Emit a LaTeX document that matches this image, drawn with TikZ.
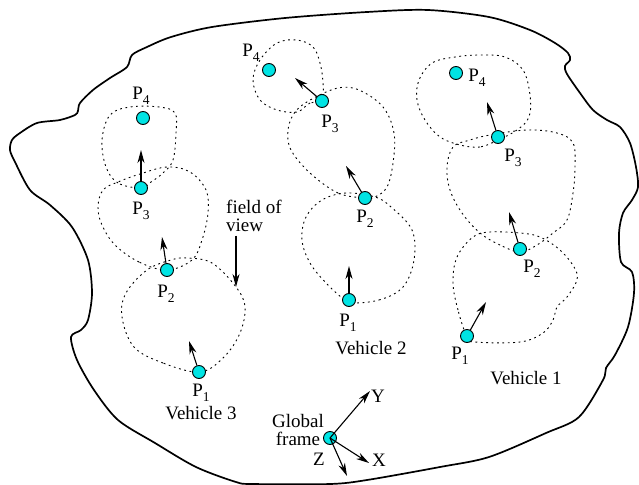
\documentclass[tikz,border=0pt]{standalone}
\usepackage{fontspec}
\setmainfont{Liberation Serif}
\usetikzlibrary{arrows.meta}
\definecolor{ptfill}{RGB}{0,228,228}
\newcommand{\Pn}[1]{P\raisebox{-5pt}{\fontsize{13.5}{13.5}\selectfont #1}}
\begin{document}
\begin{tikzpicture}[x=1pt,y=-1pt,
  ptc/.style={circle,draw=black,line width=0.9pt,fill=ptfill,minimum size=13pt,inner sep=0pt},
  lbl/.style={font=\fontsize{19}{17.5}\selectfont, inner sep=0pt},
  fov/.style={dash pattern=on 1.8pt off 3.6pt, line width=0.9pt},
  mv/.style={-{Stealth[length=13pt,width=7pt,inset=4pt]}, line width=1.1pt},
  bound/.style={line width=1.7pt}]
\useasboundingbox (0,0) rectangle (639,484);
% outer boundary
\draw[bound] plot[smooth cycle, tension=0.5] coordinates {
 (60,120) (75,115) (78,111) (80,103) (93,90) (110,78) (127,67) (132,55) (147,47) (171,37) (212,27)
 (285,18) (367,12) (428,10) (489,17) (530,30) (555,43) (568,53) (570,60) (565,66) (567,74)
 (580,93) (593,110) (607,120) (620,127) (630,143) (636,167) (638,187) (632,200) (623,213) (619,233)
 (621,262) (632,272) (634,293) (628,327) (615,355) (606,368) (603,380) (579,417)
 (546,433) (489,457) (440,467) (367,480) (330,484) (253,484) (236,482) (196,467)
 (155,443) (118,420) (94,390) (77,360) (71,337) (81,330) (88,320) (92,293) (88,260)
 (72,227) (50,205) (30,190) (15,162) (10,150) (12,140) (20,133) (37,123)};
% fields of view, vehicle 3
\draw[fov] plot[smooth cycle, tension=0.6] coordinates {
 (200,372) (163,363) (134,347) (122,317) (126,293) (147,270) (171,260) (187,258)
 (212,263) (236,287) (245,307) (240,333) (224,357)};
\draw[fov] plot[smooth cycle, tension=0.6] coordinates {
 (167,270) (139,262) (115,245) (102,225) (98,207) (103,190) (118,182) (140,174)
 (167,167) (190,172) (206,190) (208,213) (202,240) (192,260)};
\draw[fov] plot[smooth cycle, tension=0.6] coordinates {
 (141,188) (118,183) (106,167) (102,140) (110,115) (130,107) (159,107) (175,113)
 (176,133) (173,160) (163,173) (151,182)};
% vehicle 2
\draw[fov] plot[smooth cycle, tension=0.6] coordinates {
 (349,303) (379,300) (403,287) (414,260) (412,230) (391,207) (375,197) (346,193)
 (322,200) (306,217) (302,240) (310,263) (326,283) (342,298)};
\draw[fov] plot[smooth cycle, tension=0.6] coordinates {
 (365,198) (338,193) (310,173) (291,150) (288,130) (295,112) (312,99) (338,88)
 (359,90) (383,107) (394,133) (393,163) (387,187) (375,197)};
\draw[fov] plot[smooth cycle, tension=0.6] coordinates {
 (322,101) (310,103) (297,112) (277,110) (260,100) (253,80) (260,60) (277,43)
 (297,40) (313,47) (320,63) (323,83)};
% vehicle 1
\draw[fov] plot[smooth cycle, tension=0.6] coordinates {
 (467,337) (458,310) (453,283) (457,257) (473,237) (490,232) (520,233) (540,237)
 (560,250) (574,267) (577,280) (567,297) (557,307) (553,320) (543,333) (520,342) (475,342)};
\draw[fov] plot[smooth cycle, tension=0.6] coordinates {
 (520,252) (500,245) (480,233) (462,213) (450,190) (447,167) (453,147) (470,140)
 (490,135) (527,130) (557,133) (573,143) (575,167) (573,193) (567,220) (553,233) (537,245)};
\draw[fov] plot[smooth cycle, tension=0.6] coordinates {
 (498,140) (480,147) (460,145) (440,137) (425,120) (417,100) (419,80) (432,63)
 (455,57) (480,55) (505,57) (523,70) (530,95) (529,117) (517,130)};
% positions
\node[ptc] (v3p1) at (199,372) {};
\node[ptc] (v3p2) at (167,270) {};
\node[ptc] (v3p3) at (141,188) {};
\node[ptc] (v3p4) at (143,118) {};
\node[ptc] (v2p1) at (349,300) {};
\node[ptc] (v2p2) at (365,198) {};
\node[ptc] (v2p3) at (322,101) {};
\node[ptc] (v2p4) at (269,70) {};
\node[ptc] (v1p1) at (467,336) {};
\node[ptc] (v1p2) at (520,249) {};
\node[ptc] (v1p3) at (498,137) {};
\node[ptc] (v1p4) at (456,73) {};
\node[ptc] (gf) at (330,438) {};
% heading arrows
\coordinate (v3a1) at (189,341);
\coordinate (v3a2) at (162,237);
\coordinate (v3a3) at (141,150);
\coordinate (v2a1) at (349,266);
\coordinate (v2a2) at (346,166);
\coordinate (v2a3) at (295,78);
\coordinate (v1a1) at (486,302);
\coordinate (v1a2) at (509,212);
\coordinate (v1a3) at (487,102);
\draw[mv] (v3p1) -- (v3a1);
\draw[mv] (v3p2) -- (v3a2);
\draw[mv] (v3p3) -- (v3a3);
\draw[mv] (v2p1) -- (v2a1);
\draw[mv] (v2p2) -- (v2a2);
\draw[mv] (v2p3) -- (v2a3);
\draw[mv] (v1p1) -- (v1a1);
\draw[mv] (v1p2) -- (v1a2);
\draw[mv] (v1p3) -- (v1a3);
% global frame axes
\coordinate (ay) at (370,391);
\coordinate (ax) at (369,463);
\coordinate (az) at (347,476);
\draw[mv] (gf.center) -- (ay);
\draw[mv] (gf.center) -- (ax);
\draw[mv] (gf.center) -- (az);
% labels
\node[lbl] (l3p1) at (201,393) {\Pn{1}};
\node[lbl] (l3p2) at (166,294) {\Pn{2}};
\node[lbl] (l3p3) at (141,211) {\Pn{3}};
\node[lbl] (l3p4) at (141,96) {\Pn{4}};
\node[lbl] (veh3) at (201,413) {Vehicle 3};
\node[lbl] (l2p1) at (348,323) {\Pn{1}};
\node[lbl] (l2p2) at (365,219) {\Pn{2}};
\node[lbl] (l2p3) at (330,124) {\Pn{3}};
\node[lbl] (l2p4) at (251,53) {\Pn{4}};
\node[lbl] (veh2) at (371,348) {Vehicle 2};
\node[lbl] (l1p1) at (460,356) {\Pn{1}};
\node[lbl] (l1p2) at (532,269) {\Pn{2}};
\node[lbl] (l1p3) at (513,158) {\Pn{3}};
\node[lbl] (l1p4) at (477,78) {\Pn{4}};
\node[lbl] (veh1) at (526,378) {Vehicle 1};
\node[lbl,align=left,anchor=west] (fovt) at (226,216) {field of\\view};
\coordinate (fova) at (236,287);
\draw[mv] (fovt.south west -| fova) ++(0,4) coordinate (fovs) (fovs) -- (fova);
\node[lbl,align=center] (gft) at (298,430) {Global\\frame};
\node[lbl] (ly) at (378,396) {Y};
\node[lbl] (lx) at (379,460) {X};
\node[lbl] (lz) at (319,459) {Z};
\end{tikzpicture}
\end{document}
